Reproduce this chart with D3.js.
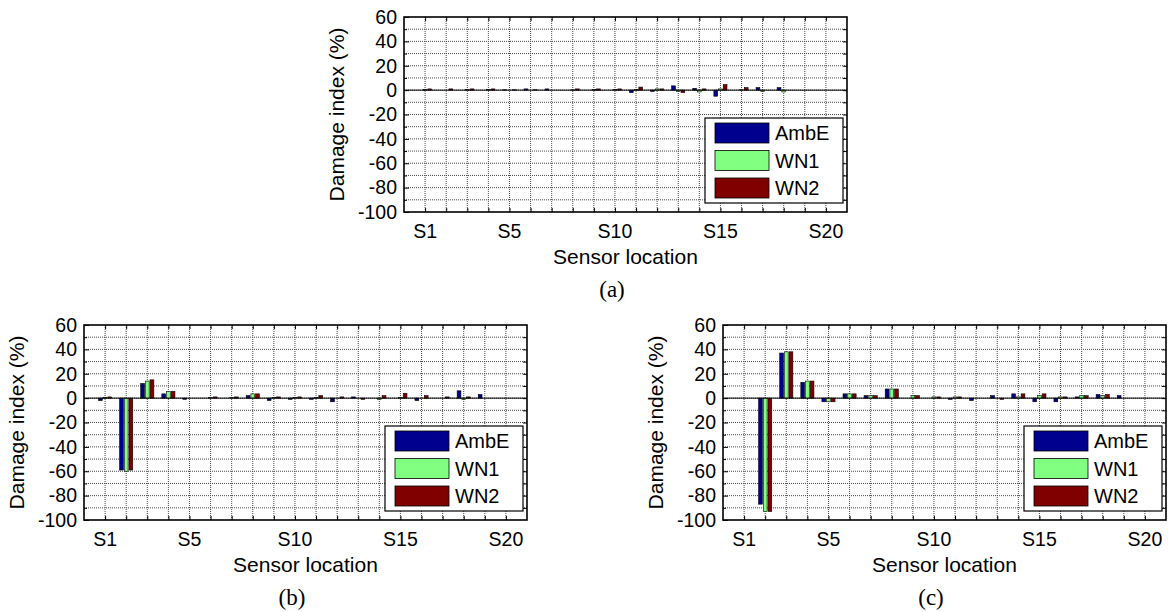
<!DOCTYPE html>
<html>
<head>
<meta charset="utf-8">
<script src="https://cdn.jsdelivr.net/npm/d3@7"></script>
<style>
  body { margin: 0; background: #fff; }
  text { font-family: "Liberation Sans", Arial, sans-serif; fill: #000; }
  .cap { font-family: "Liberation Serif", "Times New Roman", serif; }
</style>
</head>
<body>
<div id="fig"></div>
<script>
// sensor locations S1..S20
var sensors = d3.range(1, 21);
var xTickLabels = ["S1", "S5", "S10", "S15", "S20"];
var xTickValues = [1, 5, 10, 15, 20];
var yTicks = [60, 40, 20, 0, -20, -40, -60, -80, -100];
var seriesNames = ["AmbE", "WN1", "WN2"];
var seriesColors = ["#00008f", "#80ff80", "#800000"];

// (a)
var ambeA = [0, 0, 0, 0, 0.3, 1, 1, 0, 0, 0, -2, -1, 3.5, 1.5, -5, 0, 2, 2, 0, 0];
var wn1A  = [0.5, 0, 0.5, 0.5, 0, 0, 0, 0.3, 0.5, 0.5, 0.5, 1, -1, -1.5, 1, 0.3, -1, -1.5, 0, 0];
var wn2A  = [1, 1, 1, 1, 0.3, 0.3, 0, 1, 1, 1, 2.5, 1, -2, 1, 4.5, 2, 0, 0, 0, 0];
// (b)
var ambeB = [-2, -59, 12, 3.5, -1, 0, 0, 2, -2, -1, -1, -3, 1, 0, 0, -2, 0, 6, 3, 0];
var wn1B  = [0.5, -60, 14, 5.5, 0, 0.5, 0.5, 3.5, 0.5, 0.5, 0.5, 0, 0, -1, 0.5, 0, 0, -1, 0, 0];
var wn2B  = [1, -59, 15, 5.5, 0, 1, 1, 3.5, 1, 1, 2, 1, -1, 2, 4, 2, 1, 1, 0, 0];
// (c)
var ambeC = [0, -87, 37, 13, -3, 3.5, 2, 7.5, 0, 0, -1, -2, 2, 3.5, -3, -3, 1, 3, 2, 0];
var wn1C  = [0, -93, 38, 14, -3, 3.5, 2, 7.5, 2, 1, 1, 0, 0, 1, 2, 1, 2, 2, 0, 0];
var wn2C  = [0, -93, 38, 14, -3, 3.5, 2, 7.5, 2, 1, 1, 0, -1, 3.5, 3.5, 1, 2, 3, 0, 0];

var W = 443, H = 195;
var panels = [
  { series: [ambeA, wn1A, wn2A], left: 404, top: 17, cap: "(a)" },
  { series: [ambeB, wn1B, wn2B], left: 84, top: 325, cap: "(b)" },
  { series: [ambeC, wn1C, wn2C], left: 723, top: 325, cap: "(c)" }
];
var leg = { x: 301, y: 101, w: 138, h: 85, sx: 10, sw: 54, sh: 20, row: 27.5, tx: 70 };

var svg = d3.select("#fig").append("svg")
    .attr("width", 1170).attr("height", 612);

panels.forEach(function(p) {
    var x0 = p.left, x1 = p.left + W, y0 = p.top, y1 = p.top + H;
    var x = d3.scaleLinear().domain([0, 21]).range([x0, x1]);
    var y = d3.scaleLinear().domain([-100, 60]).range([y1, y0]);
    var g = svg.append("g");

    // dotted grid
    g.selectAll(".gx").data(sensors).enter().append("line")
        .attr("x1", d => x(d)).attr("x2", d => x(d))
        .attr("y1", y0).attr("y2", y1)
        .attr("stroke", "#4a4a4a").attr("stroke-dasharray", "1,1");
    g.selectAll(".gy").data(d3.range(-90, 60, 10)).enter().append("line")
        .attr("x1", x0).attr("x2", x1)
        .attr("y1", d => y(d)).attr("y2", d => y(d))
        .attr("stroke", "#4a4a4a").attr("stroke-dasharray", "1,1");

    // bars, MATLAB style grouped layout
    var slot = 0.222, bw = 0.178;
    p.series.forEach(function(vals, si) {
        g.selectAll(".b" + si).data(vals).enter().append("rect")
            .attr("x", (d, i) => x(sensors[i] + (si - 1) * slot - bw / 2))
            .attr("width", x(bw) - x(0))
            .attr("y", d => y(Math.max(0, d)))
            .attr("height", d => Math.abs(y(d) - y(0)))
            .attr("fill", seriesColors[si])
            .attr("stroke", "#000").attr("stroke-width", 0.6);
    });

    // zero baseline
    g.append("line").attr("x1", x0).attr("x2", x1)
        .attr("y1", y(0)).attr("y2", y(0)).attr("stroke", "#000");

    // ticks on all four sides, pointing inwards
    var gl = g.append("g").attr("transform", `translate(${x0},0)`)
        .call(d3.axisLeft(y).tickValues(yTicks).tickFormat(d => String(d))
            .tickSizeInner(-5).tickSizeOuter(0).tickPadding(7));
    gl.selectAll("text").attr("font-size", 19.5);
    g.append("g").attr("transform", `translate(${x0},0)`)
        .call(d3.axisLeft(y).tickValues(d3.range(-90, 60, 20)).tickSizeInner(-3).tickSizeOuter(0).tickFormat(""));
    g.append("g").attr("transform", `translate(${x1},0)`)
        .call(d3.axisRight(y).tickValues(d3.range(-90, 60, 10)).tickSizeInner(-4).tickSizeOuter(0).tickFormat(""));
    g.append("g").attr("transform", `translate(0,${y1})`)
        .call(d3.axisBottom(x).tickValues(sensors).tickSizeInner(-4).tickSizeOuter(0).tickFormat(""));
    g.append("g").attr("transform", `translate(0,${y0})`)
        .call(d3.axisTop(x).tickValues(sensors).tickSizeInner(-4).tickSizeOuter(0).tickFormat(""));
    g.selectAll(".domain").remove();

    g.selectAll(".xl").data(xTickValues).enter().append("text")
        .attr("x", d => x(d)).attr("y", y1 + 19).attr("dy", "0.35em")
        .attr("text-anchor", "middle").attr("font-size", 19.5)
        .text((d, i) => xTickLabels[i]);

    // frame
    g.append("rect").attr("x", x0).attr("y", y0)
        .attr("width", W).attr("height", H)
        .attr("fill", "none").attr("stroke", "#000").attr("stroke-width", 1.6);

    // titles
    g.append("text").attr("transform", `translate(${x0 - 67},${(y0 + y1) / 2}) rotate(-90)`)
        .attr("text-anchor", "middle").attr("dy", "0.35em").attr("font-size", 21)
        .text("Damage index (%)");
    g.append("text").attr("x", x0 + W / 2).attr("y", y1 + 45).attr("dy", "0.35em")
        .attr("text-anchor", "middle").attr("font-size", 21).text("Sensor location");
    g.append("text").attr("class", "cap").attr("x", x0 + W / 2 - 13.5).attr("y", y1 + 77)
        .attr("dy", "0.33em").attr("text-anchor", "middle").attr("font-size", 23).text(p.cap);

    // legend
    var lg = g.append("g").attr("transform", `translate(${x0 + leg.x},${y0 + leg.y})`);
    lg.append("rect").attr("width", leg.w).attr("height", leg.h)
        .attr("fill", "#fff").attr("stroke", "#000").attr("stroke-width", 1.2);
    seriesNames.forEach(function(name, i) {
        var cy = leg.h / 2 + (i - 1) * leg.row;
        lg.append("rect").attr("x", leg.sx).attr("y", cy - leg.sh / 2)
            .attr("width", leg.sw).attr("height", leg.sh)
            .attr("fill", seriesColors[i]).attr("stroke", "#000").attr("stroke-width", 0.8);
        lg.append("text").attr("x", leg.tx).attr("y", cy).attr("dy", "0.36em")
            .attr("font-size", 20).text(name);
    });
});
</script>
</body>
</html>
